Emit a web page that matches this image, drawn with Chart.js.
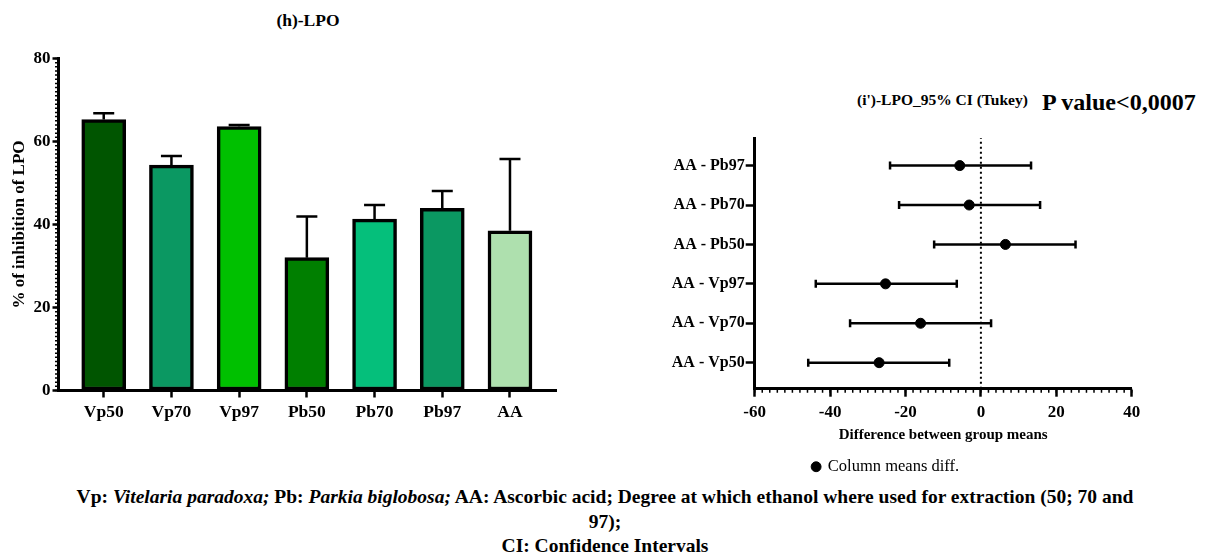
<!DOCTYPE html>
<html>
<head>
<meta charset="utf-8">
<script src="https://cdn.jsdelivr.net/npm/chart.js@4.4.0/dist/chart.umd.min.js"></script>
<style>
  body { margin: 0; width: 1210px; height: 558px; background: #fff; overflow: hidden; position: relative; font-family: 'Liberation Serif', serif; color: #000; }
  .box { position: absolute; }
  .txt { position: absolute; white-space: nowrap; }
  #caption { position: absolute; left: 0; top: 485px; width: 1210px; text-align: center; font-weight: bold; font-size: 19.5px; line-height: 24.5px; }
</style>
</head>
<body>
<div class="txt" style="left:208px; width:200px; top:9px; text-align:center; font-weight:bold; font-size:17.5px; line-height:22px;">(h)-LPO</div>
<div class="txt" style="left:857px; top:91px; font-weight:bold; font-size:15.5px; line-height:18px;">(i')-LPO_95% CI (Tukey)</div>
<div class="txt" style="left:1042px; top:87px; font-weight:bold; font-size:24px; line-height:30px;">P value&lt;0,0007</div>

<div class="box" style="left:0; top:0;"><canvas id="barChart" width="600" height="445"></canvas></div>
<div class="box" style="left:640px; top:80px;"><canvas id="ciChart" width="570" height="405"></canvas></div>

<div id="caption">Vp: <i>Vitelaria paradoxa;</i> Pb: <i>Parkia biglobosa;</i> AA: Ascorbic acid; Degree at which ethanol where used for extraction (50; 70 and<br>97);<br>CI: Confidence Intervals</div>

<script>
// (h) bar chart data
const groups = ['Vp50', 'Vp70', 'Vp97', 'Pb50', 'Pb70', 'Pb97', 'AA'];
const inhibition = [65.3, 54.3, 63.6, 32.0, 41.3, 43.9, 38.5];
const inhibitionSd = [1.5, 2.2, 0.4, 9.9, 3.4, 4.2, 17.3];
const barColors = ['#005500', '#0b9862', '#00c000', '#007f00', '#05bf7b', '#0b9862', '#aee0ae'];
const yTicksLeft = [0, 20, 40, 60, 80];

// (i') Tukey 95% CI data, bottom row first
const comparisons = ['AA - Vp50', 'AA - Vp70', 'AA - Vp97', 'AA - Pb50', 'AA - Pb70', 'AA - Pb97'];
const meanDiff = [-27.0, -16.0, -25.3, 6.5, -3.1, -5.6];
const ciLow = [-45.8, -34.7, -43.8, -12.4, -21.7, -24.1];
const ciHigh = [-8.4, 2.7, -6.4, 25.1, 15.7, 13.3];
const xTicksRight = [-60, -40, -20, 0, 20, 40];

const FONT = 'Liberation Serif';
Chart.defaults.font.family = FONT;
Chart.defaults.color = '#000';
Chart.defaults.animation = false;

// small ticks along an axis, GraphPad style
const minorTicks = {
  id: 'minorTicks',
  afterDraw(chart, args, opts) {
    if (!opts || !opts.axis) return;
    const s = chart.scales[opts.axis];
    const ctx = chart.ctx;
    ctx.save();
    ctx.strokeStyle = '#000';
    ctx.lineWidth = 1.5;
    ctx.beginPath();
    for (let v = opts.from; v <= opts.to + 1e-9; v += opts.step) {
      const p = s.getPixelForValue(v);
      if (opts.axis === 'y') {
        ctx.moveTo(chart.chartArea.left - opts.length, p);
        ctx.lineTo(chart.chartArea.left, p);
      } else {
        ctx.moveTo(p, chart.chartArea.bottom);
        ctx.lineTo(p, chart.chartArea.bottom + opts.length);
      }
    }
    ctx.stroke();
    ctx.restore();
  }
};

// upper SD bars on the columns
const sdBars = {
  id: 'sdBars',
  afterDatasetsDraw(chart) {
    const x = chart.scales.x, y = chart.scales.y, ctx = chart.ctx;
    ctx.save();
    ctx.strokeStyle = '#000';
    ctx.lineWidth = 2.5;
    inhibition.forEach((v, i) => {
      const px = x.getPixelForValue(i);
      const top = y.getPixelForValue(v + inhibitionSd[i]);
      ctx.beginPath();
      ctx.moveTo(px, y.getPixelForValue(v));
      ctx.lineTo(px, top);
      ctx.moveTo(px - 10.5, top);
      ctx.lineTo(px + 10.5, top);
      ctx.stroke();
    });
    ctx.restore();
  }
};

// horizontal CI bars, drawn just after the dotted zero line
const ciBars = {
  id: 'ciBars',
  afterDatasetDraw(chart, args) {
    if (chart.data.datasets[args.index].label !== 'zero') return;
    const x = chart.scales.x, y = chart.scales.y, ctx = chart.ctx;
    ctx.save();
    ctx.strokeStyle = '#000';
    ctx.lineWidth = 2.5;
    comparisons.forEach((c, i) => {
      const py = y.getPixelForValue(i);
      const a = x.getPixelForValue(ciLow[i]);
      const b = x.getPixelForValue(ciHigh[i]);
      ctx.beginPath();
      ctx.moveTo(a, py); ctx.lineTo(b, py);
      ctx.moveTo(a, py - 4); ctx.lineTo(a, py + 4);
      ctx.moveTo(b, py - 4); ctx.lineTo(b, py + 4);
      ctx.stroke();
    });
    ctx.restore();
  }
};

const axisGrid = (len) => ({
  offset: false,
  drawOnChartArea: false, drawTicks: true, tickLength: len,
  color: '#000', tickColor: '#000', tickWidth: 2.5
});
const axisBorder = { display: true, color: '#000', width: 3 };

new Chart(document.getElementById('barChart'), {
  type: 'bar',
  data: {
    datasets: [{
      data: inhibition.map((v, i) => ({ x: i, y: v })),
      backgroundColor: barColors,
      borderColor: '#000',
      borderWidth: 3.5,
      borderSkipped: false,
      barThickness: 44
    }]
  },
  options: {
    responsive: false,
    layout: { padding: { top: 58.5, right: 43.3, left: 0, bottom: 0 } },
    plugins: {
      legend: { display: false },
      tooltip: { enabled: false },
      minorTicks: { axis: 'y', from: 0, to: 80, step: 1, length: 3.5 }
    },
    scales: {
      x: {
        type: 'linear',
        offset: false,
        min: -0.668, max: 6.69,
        afterBuildTicks: s => { s.ticks = groups.map((g, i) => ({ value: i })); },
        afterFit: s => { s.height = 54.5; },
        grid: axisGrid(7),
        border: axisBorder,
        ticks: {
          padding: 4,
          font: { size: 17.5, weight: 'bold' },
          callback: v => groups[v]
        }
      },
      y: {
        min: 0, max: 80,
        afterBuildTicks: s => { s.ticks = yTicksLeft.map(v => ({ value: v })); },
        afterFit: s => { s.width = 58.5; },
        grid: axisGrid(6),
        border: axisBorder,
        ticks: { padding: 2, font: { size: 17, weight: 'bold' } },
        title: {
          display: true, text: '% of inhibition of LPO',
          font: { size: 17, weight: 'bold' }, padding: { top: 9, bottom: 0 }
        }
      }
    }
  },
  plugins: [minorTicks, sdBars]
});

const yMinR = -0.66, yMaxR = 5.7;

new Chart(document.getElementById('ciChart'), {
  type: 'scatter',
  data: {
    datasets: [
      {
        label: 'Column means diff.',
        data: meanDiff.map((v, i) => ({ x: v, y: i })),
        backgroundColor: '#000',
        borderColor: '#000',
        pointRadius: 5,
        pointHoverRadius: 5,
        pointStyle: 'circle',
        order: 1
      },
      {
        label: 'zero',
        type: 'line',
        data: [{ x: 0, y: yMinR }, { x: 0, y: yMaxR }],
        borderColor: '#000',
        borderWidth: 2,
        borderDash: [2, 3],
        pointRadius: 0,
        order: 2
      }
    ]
  },
  options: {
    responsive: false,
    layout: { padding: { top: 58, right: 78.3, left: 0, bottom: 0 } },
    plugins: {
      tooltip: { enabled: false },
      legend: {
        position: 'bottom',
        labels: {
          usePointStyle: true, boxWidth: 7, boxHeight: 7,
          font: { size: 16.5 },
          filter: item => item.text !== 'zero'
        }
      },
      minorTicks: { axis: 'x', from: -60, to: 40, step: 2, length: 4 }
    },
    scales: {
      x: {
        type: 'linear',
        min: -60, max: 40,
        afterBuildTicks: s => { s.ticks = xTicksRight.map(v => ({ value: v })); },
        afterFit: s => { s.height = 59.8; },
        grid: axisGrid(8),
        border: axisBorder,
        ticks: { padding: 5.5, font: { size: 17, weight: 'bold' } },
        title: {
          display: true, text: 'Difference between group means',
          font: { size: 15, weight: 'bold' }, padding: { top: 0, bottom: 4 }
        }
      },
      y: {
        type: 'linear',
        min: yMinR, max: yMaxR,
        afterBuildTicks: s => { s.ticks = comparisons.map((c, i) => ({ value: i })); },
        afterFit: s => { s.width = 114.7; },
        grid: axisGrid(9),
        border: axisBorder,
        ticks: {
          padding: 1,
          font: { size: 16, weight: 'bold' },
          callback: v => comparisons[v]
        }
      }
    }
  },
  plugins: [minorTicks, ciBars]
});
</script>
</body>
</html>
